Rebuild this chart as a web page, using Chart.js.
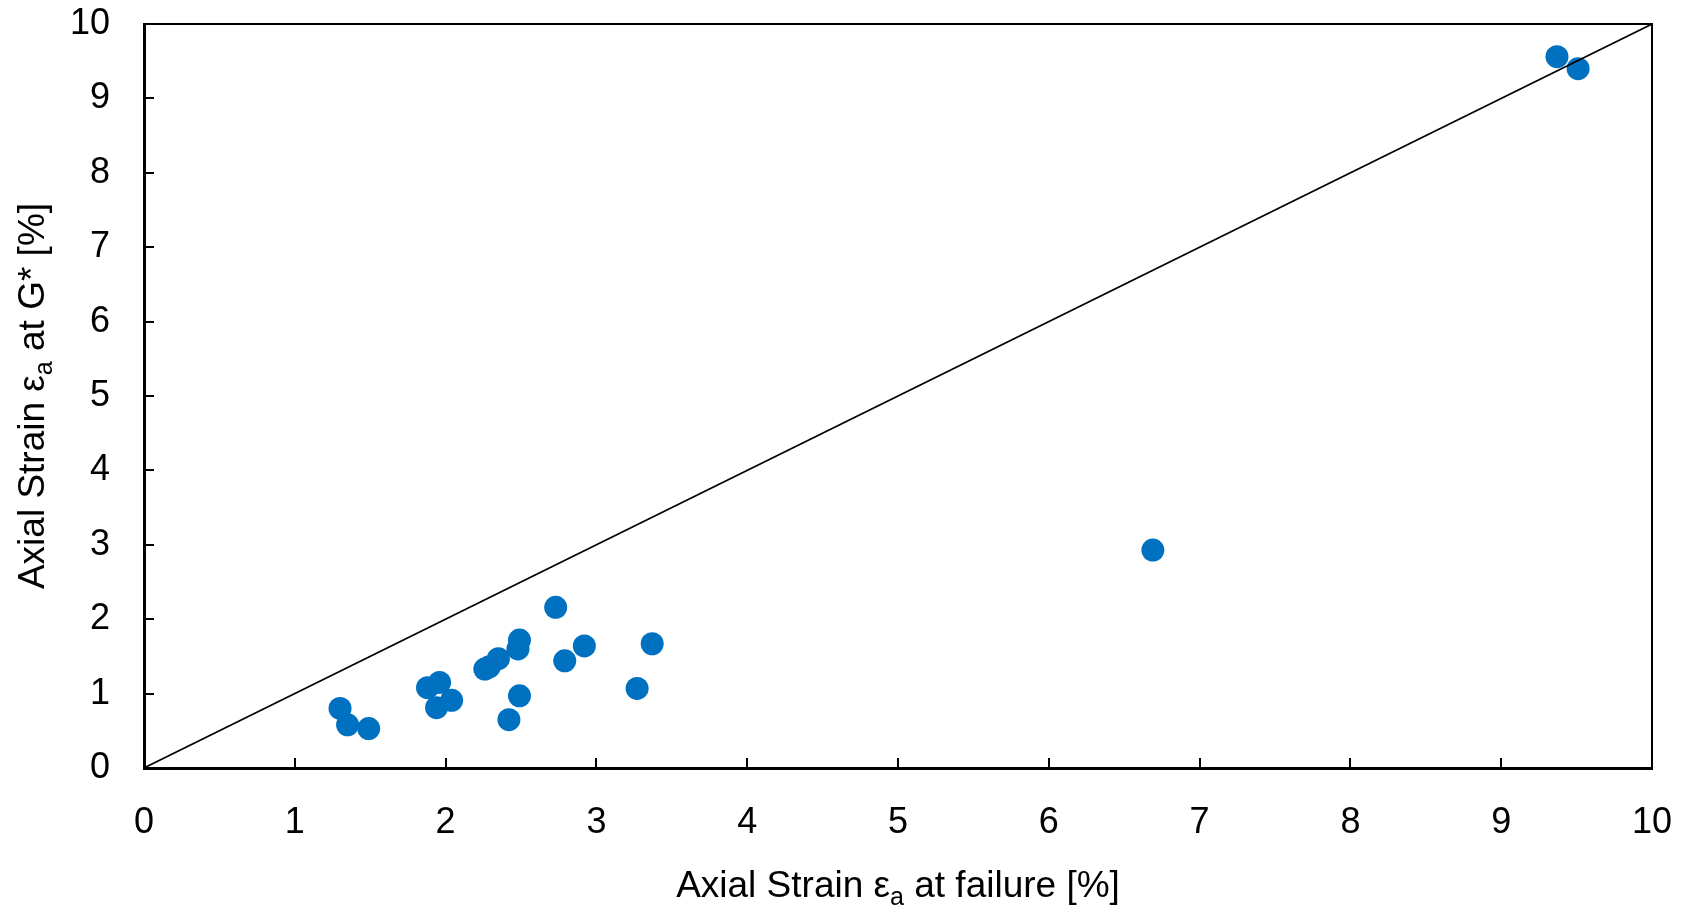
<!DOCTYPE html>
<html>
<head>
<meta charset="utf-8">
<title>Axial strain at G* vs. at failure</title>
<script src="https://cdn.jsdelivr.net/npm/chart.js@4.4.1/dist/chart.umd.min.js"></script>
<style>
  html, body { margin: 0; padding: 0; background: #ffffff; }
  #wrap { width: 1686px; height: 910px; }
</style>
</head>
<body>
<div id="wrap"><canvas id="chart" width="1686" height="910"></canvas></div>
<script>
// Axial strain at failure [%] (x) and axial strain at G* [%] (y), one entry per specimen
const failureStrain = [1.30, 1.35, 1.49, 1.88, 1.96, 1.94, 2.04, 2.26, 2.29, 2.35, 2.48, 2.49, 2.49, 2.42, 2.73, 2.79, 2.92, 3.27, 3.37, 6.69, 9.37, 9.51];
const gStarStrain   = [0.80, 0.58, 0.53, 1.08, 1.15, 0.81, 0.91, 1.33, 1.36, 1.47, 1.60, 1.72, 0.97, 0.65, 2.16, 1.44, 1.64, 1.07, 1.67, 2.93, 9.56, 9.40];

// 1:1 reference line
const equalityLineX = [0, 10];
const equalityLineY = [0, 10];

// Axis range and tick values
const axisMin = 0;
const axisMax = 10;
const tickStep = 1;

// Axis titles, split so the subscript can be set smaller
const xTitleParts = [{ t: 'Axial Strain ε' }, { t: 'a', sub: true }, { t: ' at failure [%]' }];
const yTitleParts = [{ t: 'Axial Strain ε' }, { t: 'a', sub: true }, { t: ' at G* [%]' }];

const FONT = '"Liberation Sans", Arial, Helvetica, sans-serif';
const MARKER_BLUE = '#0070C0';

const scatterPoints = failureStrain.map((x, i) => ({ x: x, y: gStarStrain[i] }));
const linePoints = equalityLineX.map((x, i) => ({ x: x, y: equalityLineY[i] }));

// Draws a title made of normal and subscript runs, centred on (cx, baseline)
function drawRichText(ctx, parts, cx, baseline, size) {
  const subSize = Math.round(size * 0.68);
  const widths = parts.map(p => {
    ctx.font = (p.sub ? subSize : size) + 'px ' + FONT;
    return ctx.measureText(p.t).width;
  });
  const total = widths.reduce((a, b) => a + b, 0);
  let x = cx - total / 2;
  ctx.textAlign = 'left';
  ctx.textBaseline = 'alphabetic';
  parts.forEach((p, i) => {
    ctx.font = (p.sub ? subSize : size) + 'px ' + FONT;
    ctx.fillText(p.t, x, baseline + (p.sub ? size * 0.22 : 0));
    x += widths[i];
  });
}

// Frame on the top/right, inward tick marks and the axis titles
const framePlugin = {
  id: 'frameAndTicks',
  afterDraw(chart) {
    const ctx = chart.ctx;
    const a = chart.chartArea;
    const xs = chart.scales.x;
    const ys = chart.scales.y;
    ctx.save();
    ctx.strokeStyle = '#000000';

    // top and right frame edges
    ctx.lineWidth = 2;
    ctx.beginPath();
    ctx.moveTo(a.left, a.top);
    ctx.lineTo(a.right, a.top);
    ctx.lineTo(a.right, a.bottom);
    ctx.stroke();

    // inward ticks on the bottom and left axes
    ctx.lineWidth = 2;
    ctx.beginPath();
    xs.ticks.forEach(t => {
      if (t.value <= axisMin || t.value >= axisMax) return;
      const px = Math.round(xs.getPixelForValue(t.value));
      ctx.moveTo(px, a.bottom);
      ctx.lineTo(px, a.bottom - 10);
    });
    ys.ticks.forEach(t => {
      if (t.value <= axisMin || t.value >= axisMax) return;
      const py = Math.round(ys.getPixelForValue(t.value));
      ctx.moveTo(a.left, py);
      ctx.lineTo(a.left + 10, py);
    });
    ctx.stroke();

    // axis titles
    ctx.fillStyle = '#000000';
    drawRichText(ctx, xTitleParts, (a.left + a.right) / 2, 897, 37);
    ctx.translate(44, (a.top + a.bottom) / 2);
    ctx.rotate(-Math.PI / 2);
    drawRichText(ctx, yTitleParts, 0, 0, 37);
    ctx.restore();
  }
};

const tickFont = { family: FONT, size: 36 };

// The frame is fixed by the layout padding, so the label overhang is not added again
function fixScale(scale, dim, value) {
  scale[dim] = value;
  scale.paddingTop = 0;
  scale.paddingBottom = 0;
  scale.paddingLeft = 0;
  scale.paddingRight = 0;
}

new Chart(document.getElementById('chart'), {
  type: 'scatter',
  data: {
    datasets: [
      {
        type: 'line',
        data: linePoints,
        borderColor: '#000000',
        borderWidth: 1.6,
        pointRadius: 0,
        fill: false,
        order: 0
      },
      {
        type: 'scatter',
        data: scatterPoints,
        backgroundColor: MARKER_BLUE,
        borderWidth: 0,
        pointRadius: 11.5,
        pointHoverRadius: 11.5,
        order: 1
      }
    ]
  },
  options: {
    responsive: false,
    animation: false,
    events: [],
    layout: { padding: { top: 24, right: 34, bottom: 0, left: 0 } },
    plugins: {
      legend: { display: false },
      tooltip: { enabled: false },
      title: { display: false }
    },
    scales: {
      x: {
        type: 'linear',
        min: axisMin,
        max: axisMax,
        grid: { display: false, drawTicks: false },
        border: { display: true, color: '#000000', width: 3 },
        ticks: {
          stepSize: tickStep,
          color: '#000000',
          font: tickFont,
          padding: 33,
          maxRotation: 0
        },
        afterFit(scale) { fixScale(scale, 'height', 142); }
      },
      y: {
        type: 'linear',
        min: axisMin,
        max: axisMax,
        grid: { display: false, drawTicks: false },
        border: { display: true, color: '#000000', width: 3 },
        ticks: {
          stepSize: tickStep,
          color: '#000000',
          font: tickFont,
          padding: 34
        },
        afterFit(scale) { fixScale(scale, 'width', 144); }
      }
    }
  },
  plugins: [framePlugin]
});
</script>
</body>
</html>
